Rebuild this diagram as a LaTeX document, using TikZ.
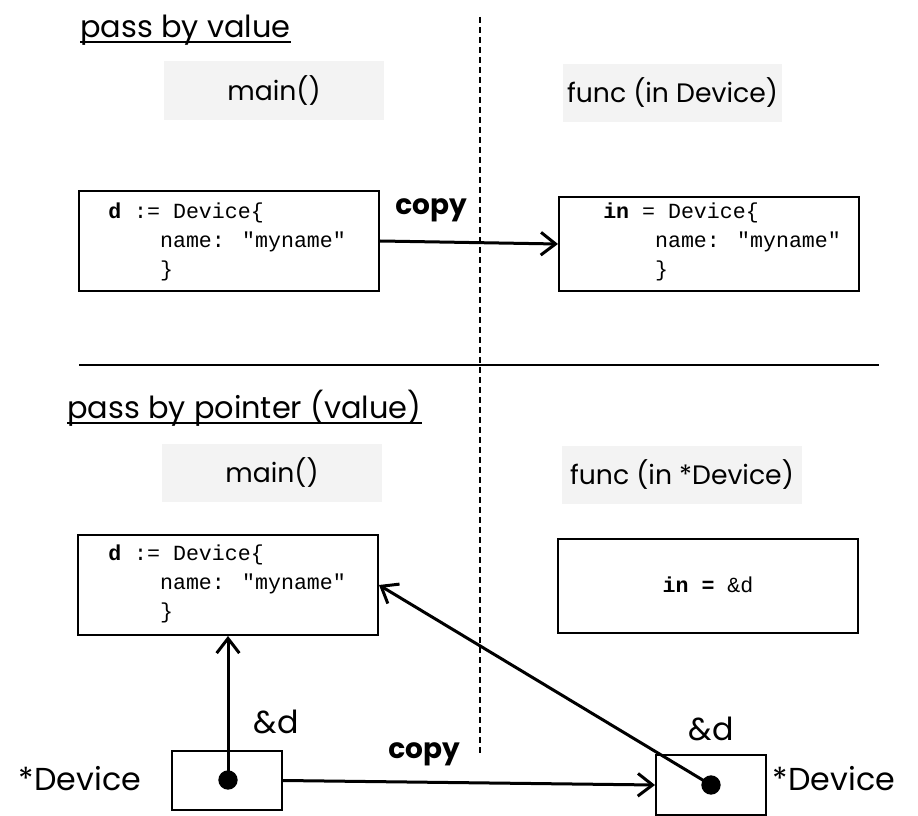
\documentclass[tikz,border=0pt]{standalone}
\usepackage{fontspec}
\setmainfont{Poppins}
\newfontfamily\codefont{Liberation Mono}
\usetikzlibrary{arrows.meta,positioning,calc}
\definecolor{headgray}{HTML}{F3F3F3}
\begin{document}
\begin{tikzpicture}[x=0.75pt,y=-0.75pt,
    title/.style={inner xsep=0pt, anchor=base west, font=\fontsize{22.8}{26}\selectfont},
    head/.style={fill=headgray, minimum height=44pt, font=\fontsize{20}{24}\selectfont},
    codebox/.style={draw, line width=1.5pt, minimum width=225pt},
    code/.style={inner sep=0pt, anchor=west, align=left, font=\codefont\fontsize{16.2}{21.75}\selectfont},
    lbl/.style={font=\fontsize{23.8}{28}\selectfont},
    ptrbox/.style={draw, line width=1.5pt, minimum width=82.5pt, minimum height=44.5pt},
    dot/.style={circle, fill, inner sep=0pt, minimum size=14.5pt},
    link/.style={line width=2.25pt, -{Straight Barb[length=11pt,width=17pt]}}]
\useasboundingbox (0,0) rectangle (918,816);
% pass by value
\node[title] (t1) at (80,38) {pass by value};
\draw[line width=1pt] ([yshift=-3pt]t1.base west) -- ([yshift=-3pt]t1.base east);
\node[head, minimum width=165pt] (h1) at (274,90.5) {main()};
\node[head, minimum width=164pt] (h2) at (672.5,93) {func (in Device)};
\node[codebox, minimum height=75pt] (b1) at (229,241) {};
\node[code] (c1) at (108,242) {\textbf{d} := Device\{\\\ \ \ \ name: "myname"\\\ \ \ \ \}};
\node[codebox, minimum height=70.5pt] (b2) at (709,244) {};
\node[code] (c2) at (603,242) {\textbf{in} = Device\{\\\ \ \ \ name: "myname"\\\ \ \ \ \}};
\node[lbl, font=\fontsize{21}{24}\selectfont\bfseries] (cp1) at (431,210) {copy};
\draw[link] (b1.east) -- (b2.west);
% divider
\coordinate (dtop) at (480,17);
\coordinate (dbot) at (480,755);
\coordinate (sl) at (79,365);
\coordinate (sr) at (879,365);
\draw[line width=1.5pt, dash pattern=on 4.5pt off 3pt] (dtop) -- (dbot);
\draw[line width=1.5pt] (sl) -- (sr);
% pass by pointer
\node[title] (t2) at (67,419) {pass by pointer (value)};
\draw[line width=1pt] ([yshift=-3pt]t2.base west) -- ([yshift=-3pt]t2.base east);
\node[head, minimum width=165pt] (h3) at (272,473) {main()};
\node[head, minimum width=180pt] (h4) at (682,475) {func (in *Device)};
\node[codebox, minimum height=75pt] (b3) at (228,585) {};
\node[code] (c3) at (108,584) {\textbf{d} := Device\{\\\ \ \ \ name: "myname"\\\ \ \ \ \}};
\node[codebox, minimum height=70.5pt] (b4) at (708,586) {};
\node[inner sep=0pt, font=\codefont\fontsize{16.2}{20}\selectfont] (c4) at (708,585) {\textbf{in =} \&d};
\node[ptrbox] (lb) at (227,780.5) {};
\node[ptrbox] (rb) at (711,785) {};
\node[dot] (ldot) at (228,780) {};
\node[dot] (rdot) at (711,785) {};
\node[lbl] (a1) at (276,722) {\&d};
\node[lbl] (a2) at (711,729) {\&d};
\node[lbl] (p1) at (80,779) {*Device};
\node[lbl] (p2) at (834,779) {*Device};
\node[lbl, font=\fontsize{21}{24}\selectfont\bfseries] (cp2) at (424,754) {copy};
\draw[link] (ldot.center) -- (b3.south);
\draw[link] (lb.east) -- (rb.west);
\draw[link] (rdot.center) -- (b3.east);
\end{tikzpicture}
\end{document}
